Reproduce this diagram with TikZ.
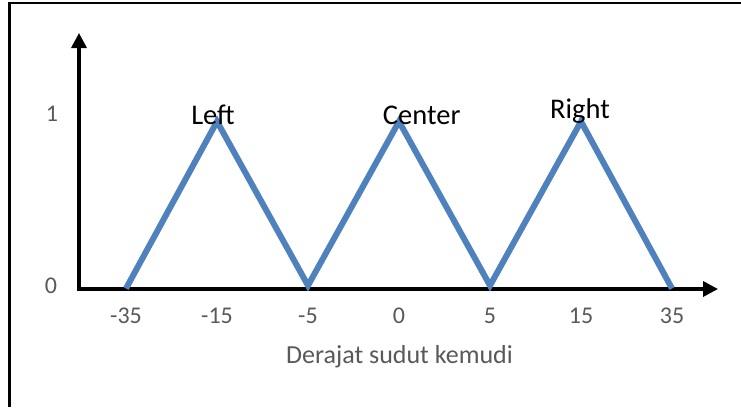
\documentclass[tikz,border=0pt]{standalone}
\usepackage{fontspec}
\setmainfont{Carlito}
\usetikzlibrary{arrows.meta}
\definecolor{memberblue}{HTML}{4F81BD}
\definecolor{labelgray}{HTML}{595959}

\begin{document}
\begin{tikzpicture}[x=1pt,y=-1pt]
\tikzstyle{axis} = [draw=black, line width=3.4pt, line join=miter, {Triangle[length=15pt,width=15pt]}-{Triangle[length=15pt,width=15pt]}]
\tikzstyle{tick} = [text=labelgray, font=\fontsize{24}{24}\selectfont, anchor=base, inner sep=0pt]
\tikzstyle{axistitle} = [text=labelgray, font=\fontsize{26}{26}\selectfont, anchor=base, inner sep=0pt]
\tikzstyle{setname} = [text=black, font=\fontsize{28.5}{28.5}\selectfont, anchor=base, inner sep=0pt]
\tikzstyle{member} = [draw=memberblue, line width=6pt, line join=miter]

\useasboundingbox (0,0) rectangle (741,407);

% Frame (only the top and left edges show)
\draw[line width=2.4pt] (741,3) -- (9.5,3) -- (9.5,407);

% Axes
\coordinate (origin) at (79,289);
\coordinate (yTip) at (79,33);
\coordinate (xTip) at (718,289);
\draw[axis] (yTip) -- (origin) -- (xTip);

% Membership values on the vertical axis
\node[tick] (one) at (52,121) {1};
\node[tick] (zero) at (51,293) {0};

% Steering angle ticks
\foreach \val [count=\i from 0] in {-35,-15,-5,0,5,15,35}
  \node[tick] (tick\i) at (126+91*\i, 323.5) {\val};
\node[axistitle] (axisTitle) at (399.5,363) {Derajat sudut kemudi};

% Triangular sets
\foreach \i/\h in {0/288.5,1/121.5,2/285.5,3/121.5,4/285.5,5/121.5,6/288.5}
  \coordinate (p\i) at (126+91*\i, \h);
\draw[member] (p0) -- (p1) -- (p2) -- (p3) -- (p4) -- (p5) -- (p6);

% Set names
\node[setname] (leftLabel) at (213,124) {Left};
\node[setname] (centerLabel) at (421.7,124) {Center};
\node[setname] (rightLabel) at (580,118) {Right};

\end{tikzpicture}
\end{document}
